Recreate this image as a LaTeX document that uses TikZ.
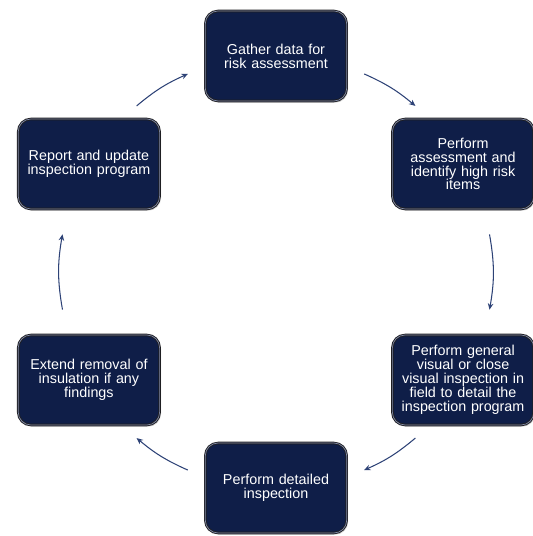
\documentclass[tikz,border=0pt]{standalone}
\usepackage{fontspec}
\setmainfont{Liberation Sans}
\usetikzlibrary{arrows.meta, shadows}
\definecolor{navy}{RGB}{15,30,72}
\definecolor{rim}{RGB}{30,30,34}
\definecolor{gloss}{RGB}{130,140,170}
\definecolor{flow}{RGB}{45,66,118}

\begin{document}
\begin{tikzpicture}[>={Stealth[length=4.5pt,width=4pt]},
    stepbox/.style={rectangle, rounded corners=9pt, fill=navy, draw=rim,
        line width=0.65pt, double=gloss, double distance=0.5pt,
        drop shadow={opacity=0.3, shadow xshift=1pt, shadow yshift=-1.2pt},
        minimum width=3.5cm, minimum height=2.25cm, text width=3.3cm,
        align=center, text=white, font=\fontsize{10.2}{9.9}\selectfont},
    cycle/.style={->, line width=0.75pt, flow}]

    \useasboundingbox (-6.9,-6.6) rectangle (6.4,6.8);

    \node[stepbox] (gather) at (90:5.4) {Gather data for\\risk assessment};
    \node[stepbox] (assess) at (30:5.4) {Perform\\assessment and\\identify high risk\\items};
    \node[stepbox] (visual) at (-30:5.4) {Perform general\\visual or close\\visual inspection in\\field to detail the\\inspection program};
    \node[stepbox] (detail) at (-90:5.4) {Perform detailed\\inspection};
    \node[stepbox] (extend) at (-150:5.4) {Extend removal of\\insulation if any\\findings};
    \node[stepbox] (report) at (150:5.4) {Report and update\\inspection program};

    \coordinate (g1) at (66:5.42);
    \coordinate (g2) at (50:5.42);
    \coordinate (a1) at (10:5.42);
    \coordinate (a2) at (-10:5.42);
    \coordinate (v1) at (-50:5.42);
    \coordinate (v2) at (-66:5.42);
    \coordinate (d1) at (-114:5.42);
    \coordinate (d2) at (-130:5.42);
    \coordinate (e1) at (190:5.42);
    \coordinate (e2) at (170:5.42);
    \coordinate (r1) at (130:5.42);
    \coordinate (r2) at (114:5.42);

    \draw[cycle] (g1) to[bend left=8] (g2);
    \draw[cycle] (a1) to[bend left=10] (a2);
    \draw[cycle] (v1) to[bend left=8] (v2);
    \draw[cycle] (d1) to[bend left=8] (d2);
    \draw[cycle] (e1) to[bend left=10] (e2);
    \draw[cycle] (r1) to[bend left=8] (r2);

\end{tikzpicture}
\end{document}
